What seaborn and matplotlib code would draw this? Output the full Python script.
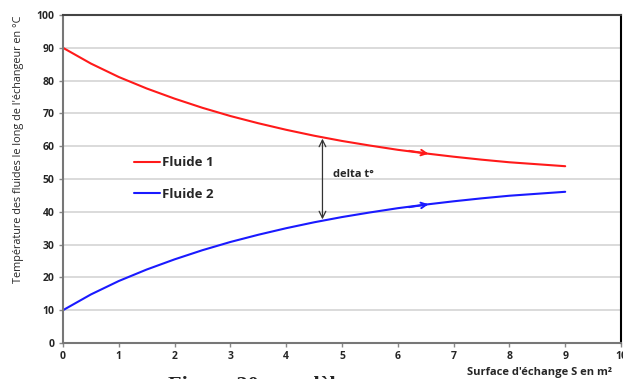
import matplotlib
matplotlib.use("Agg")
import matplotlib.pyplot as plt
import seaborn as sns
import pandas as pd

# surface (m²) and temperatures
surface = [0, 0.5, 1, 1.5, 2, 2.5, 3, 3.5, 4, 4.5, 5, 5.5, 6, 6.5, 7, 7.5, 8, 8.5, 9]
fluide1 = [90, 85.2, 81.1, 77.6, 74.5, 71.7, 69.2, 67.0, 65.0, 63.2, 61.6,
           60.2, 58.9, 57.8, 56.8, 55.9, 55.1, 54.5, 53.9]
fluide2 = [10, 14.8, 18.9, 22.4, 25.5, 28.3, 30.8, 33.0, 35.0, 36.8, 38.4,
           39.8, 41.1, 42.2, 43.2, 44.1, 44.9, 45.5, 46.1]
series_names = ["Fluide 1", "Fluide 2"]
series_colors = ["#ff1a1a", "#1a1aff"]

# delta t° marker and direction arrows
delta_x = 4.65
delta_top = 62.3
delta_bottom = 37.7
arrow_x = [6.2, 6.55]
arrow_red = [58.6, 57.7]
arrow_blue = [41.4, 42.3]

df = pd.DataFrame({
    "S": surface * 2,
    "T": fluide1 + fluide2,
    "fluide": [series_names[0]] * len(surface) + [series_names[1]] * len(surface),
})

sns.set_style("white")
plt.rcParams["font.family"] = ["Open Sans", "DejaVu Sans"]

fig = plt.figure(figsize=(6.23, 3.79), dpi=100)
ax = fig.add_axes([0.1011, 0.095, 0.8957, 0.8654])

sns.lineplot(data=df, x="S", y="T", hue="fluide", palette=series_colors,
             linewidth=1.5, ax=ax, legend=True)

ax.set_xlim(0, 10)
ax.set_ylim(0, 100)
ax.set_xticks(range(0, 11))
ax.set_yticks(range(0, 101, 10))
ax.yaxis.grid(True, color="#d4d4d4", linewidth=1.2)
ax.set_axisbelow(True)
ax.tick_params(axis="both", length=3, width=1, color="#888888", labelsize=7.5, pad=3,
               bottom=True, left=True)
for lab in ax.get_xticklabels() + ax.get_yticklabels():
    lab.set_fontweight("bold")
for side in ["left", "bottom"]:
    ax.spines[side].set_color("#777777")
    ax.spines[side].set_linewidth(1.5)
ax.spines["top"].set_color("#444444")
ax.spines["top"].set_linewidth(1.5)
ax.spines["right"].set_color("black")
ax.spines["right"].set_linewidth(1.5)
ax.set_xlabel("")
ax.set_ylabel("")

# direction arrows on the curves
for ys, col in [(arrow_red, series_colors[0]), (arrow_blue, series_colors[1])]:
    ax.annotate("", xy=(arrow_x[1], ys[1]), xytext=(arrow_x[0], ys[0]),
                arrowprops=dict(arrowstyle="->", color=col, lw=1.4,
                                mutation_scale=10, shrinkA=0, shrinkB=0))

# delta t° double arrow
ax.annotate("", xy=(delta_x, delta_top), xytext=(delta_x, delta_bottom),
            arrowprops=dict(arrowstyle="<->", color="#333333", lw=0.9,
                            mutation_scale=12, shrinkA=0, shrinkB=0))
ax.text(delta_x + 0.18, 51.5, "delta t°", fontsize=8, fontweight="bold",
        ha="left", va="center")

leg = ax.legend(loc="upper left", bbox_to_anchor=(0.118, 0.585), frameon=False,
                handlelength=2.0, handletextpad=0.15, labelspacing=1.4,
                fontsize=9.5, borderaxespad=0)
for t in leg.get_texts():
    t.set_fontweight("bold")

fig.text(0.03, 0.605, "Température des fluides le long de l'échangeur en °C",
         rotation=90, ha="center", va="center", fontsize=7.8)
fig.text(0.983, 0.018, "Surface d'échange S en m²", ha="right", va="center",
         fontsize=8, fontweight="bold")
fig.text(0.27, -0.045, "Figure 20 : modèle", ha="left", va="bottom",
         fontsize=16, fontweight="bold", family=["Liberation Serif", "DejaVu Serif"])

fig.savefig("out.png", dpi=100)
